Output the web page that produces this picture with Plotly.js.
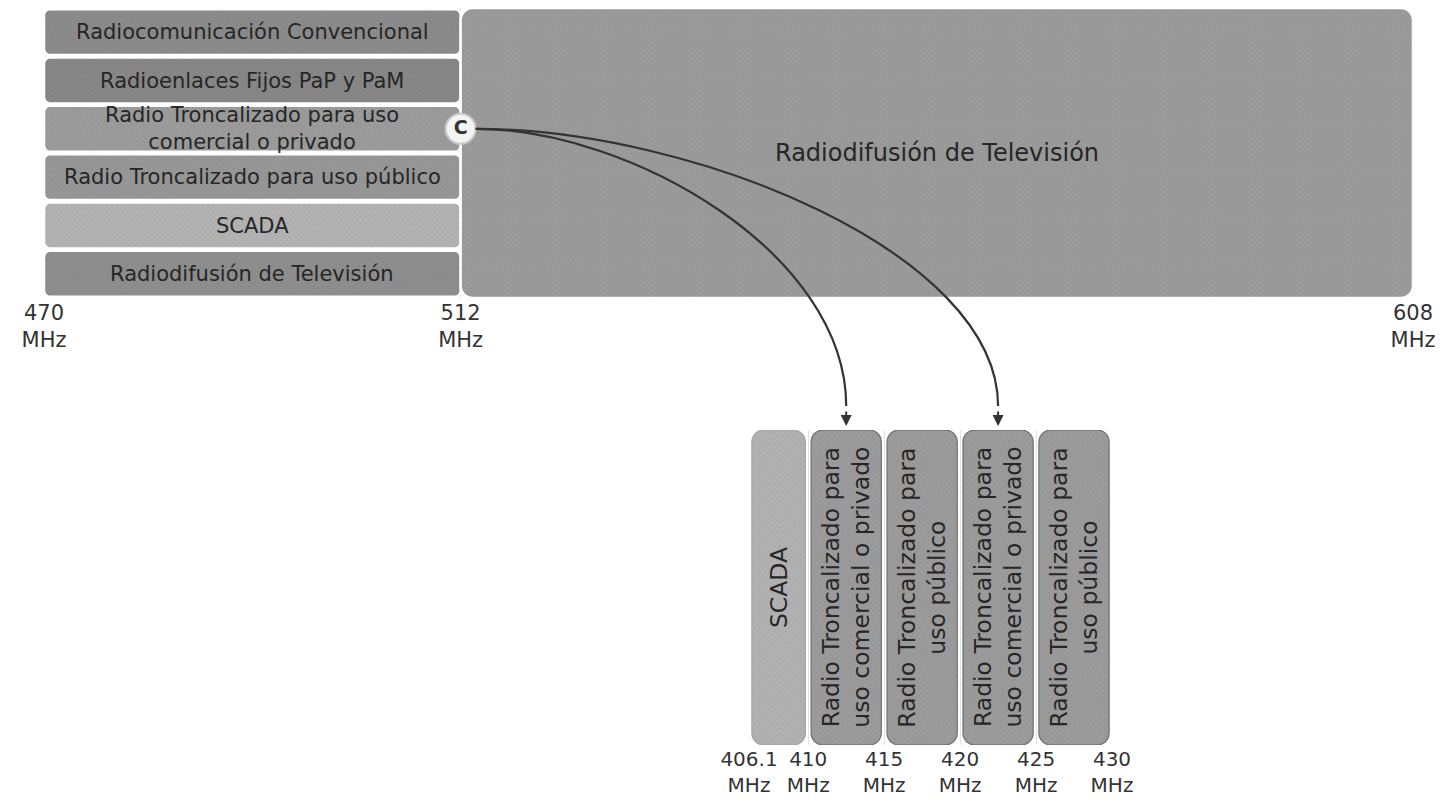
<!DOCTYPE html>
<html>
<head>
<meta charset="utf-8">
<script src="https://cdn.plot.ly/plotly-3.0.1.min.js"></script>
<style>html,body{margin:0;padding:0;background:#fff;}#chart{width:1445px;height:809px;}</style>
</head>
<body>
<div id="chart"></div>
<script>
// ---- data ----
const topBandNames = [
  "Radiocomunicación Convencional",
  "Radioenlaces Fijos PaP y PaM",
  "Radio Troncalizado para uso<br>comercial o privado",
  "Radio Troncalizado para uso público",
  "SCADA",
  "Radiodifusión de Televisión"
];
const topLowMHz = 470;
const topSplitMHz = 512;
const topHighMHz = 608;
const wideBandName = "Radiodifusión de Televisión";
const topTickValues = [470, 512, 608];

const subBandNames = [
  "SCADA",
  "Radio Troncalizado para<br>uso comercial o privado",
  "Radio Troncalizado para<br>uso público",
  "Radio Troncalizado para<br>uso comercial o privado",
  "Radio Troncalizado para<br>uso público"
];
const subBandEdges = [406.1, 410, 415, 420, 425, 430];
const sourceRowIndex = 2;          // "Radio Troncalizado para uso comercial o privado"
const linkedSubBands = [1, 3];     // segments reached by the arrows
const sourceLabel = "C";

// ---- styles ----
const topColors = ["#8b8b8b", "#878787", "#9b9b9b", "#979797", "#b3b3b3", "#8e8e8e"];
const wideColor = "#9a9a9a";
const subColors = ["#b2b2b2", "#9b9b9b", "#9b9b9b", "#9b9b9b", "#9b9b9b"];
const subLineColors = ["#a6a6a6", "#747474", "#747474", "#747474", "#747474"];
const textColor = "#262626";
const FONT = "DejaVu Sans";
const W = 1445, H = 809;
const texture = {shape: "x", size: 4, solidity: 0.12, fgcolor: "#6e6e6e", fgopacity: 0.25, fillmode: "overlay"};

// ---- derived ----
const rowCenters = topBandNames.map((_, i) => i + 0.5);
const subCenters = subBandNames.map((_, i) => (subBandEdges[i] + subBandEdges[i + 1]) / 2);
const subWidths = subBandNames.map((_, i) => (subBandEdges[i + 1] - subBandEdges[i]) - 0.38);
const fmtMHz = v => v + "<br>MHz";

const traces = [
  {
    type: "bar", orientation: "h", xaxis: "x", yaxis: "y",
    y: rowCenters,
    base: topBandNames.map(() => topLowMHz),
    x: topBandNames.map(() => topSplitMHz - topLowMHz),
    width: topBandNames.map(() => 0.95),
    marker: {color: topColors, line: {color: "#ffffff", width: 2.5}, cornerradius: 6, pattern: texture},
    hoverinfo: "skip", showlegend: false
  },
  {
    type: "bar", orientation: "h", xaxis: "x", yaxis: "y",
    y: [topBandNames.length / 2],
    base: [topSplitMHz],
    x: [topHighMHz - topSplitMHz],
    width: [topBandNames.length],
    marker: {color: wideColor, line: {color: "#ffffff", width: 2.5}, cornerradius: 12, pattern: texture},
    hoverinfo: "skip", showlegend: false
  },
  {
    type: "bar", xaxis: "x2", yaxis: "y2",
    x: subCenters,
    y: subBandNames.map(() => 1),
    base: subBandNames.map(() => 0),
    width: subWidths,
    marker: {color: subColors, line: {color: subLineColors, width: 1.3}, cornerradius: 12, pattern: texture},
    hoverinfo: "skip", showlegend: false
  },
  {
    type: "scatter", mode: "markers+text", xaxis: "x", yaxis: "y",
    x: [topSplitMHz], y: [rowCenters[sourceRowIndex]],
    text: ["<b>" + sourceLabel + "</b>"], textposition: "middle center",
    textfont: {family: FONT, size: 19, color: "#333"},
    marker: {size: 30, color: "#f4f4f4", line: {color: "#c8c8c8", width: 2}},
    hoverinfo: "skip", showlegend: false, cliponaxis: false
  }
];

const annotations = [];
topBandNames.forEach((name, i) => {
  annotations.push({
    xref: "x", yref: "y", x: (topLowMHz + topSplitMHz) / 2, y: rowCenters[i],
    text: name, showarrow: false,
    font: {family: FONT, size: 21, color: textColor}
  });
});
annotations.push({
  xref: "x", yref: "y", x: (topSplitMHz + topHighMHz) / 2, y: topBandNames.length / 2,
  text: wideBandName, showarrow: false,
  font: {family: FONT, size: 24, color: textColor}
});
subBandNames.forEach((name, i) => {
  annotations.push({
    xref: "x2", yref: "y2", x: subCenters[i], y: 0.5,
    text: name, showarrow: false, textangle: -90,
    font: {family: FONT, size: 23.5, color: textColor}
  });
});
linkedSubBands.forEach(j => {
  annotations.push({
    xref: "x2", yref: "y2", x: subCenters[j], y: 1,
    text: "", showarrow: true, ax: 0, ay: -20, standoff: 4,
    arrowhead: 2, arrowsize: 1.1, arrowwidth: 2, arrowcolor: "#333"
  });
});

const layout = {
  width: W, height: H,
  margin: {l: 0, r: 0, t: 0, b: 0},
  paper_bgcolor: "#ffffff", plot_bgcolor: "rgba(0,0,0,0)",
  font: {family: FONT, color: textColor},
  barmode: "overlay",
  showlegend: false,
  xaxis: {
    domain: [44 / W, 1413 / W], range: [topLowMHz, topHighMHz], anchor: "y",
    tickmode: "array", tickvals: topTickValues, ticktext: topTickValues.map(fmtMHz),
    tickfont: {family: FONT, size: 21, color: "#333"},
    showgrid: true, gridcolor: "#e6e6e6", gridwidth: 1, zeroline: false, showline: false, ticks: ""
  },
  yaxis: {
    domain: [1 - 298 / H, 1 - 8 / H], range: [topBandNames.length, 0], anchor: "x",
    visible: false
  },
  xaxis2: {
    domain: [749 / W, 1112 / W], range: [subBandEdges[0], subBandEdges[subBandEdges.length - 1]], anchor: "y2",
    tickmode: "array", tickvals: subBandEdges, ticktext: subBandEdges.map(fmtMHz),
    tickfont: {family: FONT, size: 20, color: "#333"},
    showgrid: true, gridcolor: "#e2e2e2", gridwidth: 1, zeroline: false, showline: false, ticks: ""
  },
  yaxis2: {
    domain: [1 - 745 / H, 1 - 430 / H], range: [0, 1], anchor: "x2",
    visible: false
  },
  annotations: annotations
};

Plotly.newPlot("chart", traces, layout, {displayModeBar: false, staticPlot: true}).then(gd => {
  const fl = gd._fullLayout;
  const s = fl._size;
  const px = (ax, v) => ax._offset + ax.l2p(v);
  const toPaper = (x, y) => [(x - s.l) / s.w, 1 - (y - s.t) / s.h];
  const sx = px(fl.xaxis, topSplitMHz) + 15;
  const sy = px(fl.yaxis, rowCenters[sourceRowIndex]);
  const shapes = linkedSubBands.map(j => {
    const ex = px(fl.xaxis2, subCenters[j]);
    const ey = px(fl.yaxis2, 1) - 4 - 20;
    const c1 = toPaper(sx + 0.42 * (ex - sx), sy);
    const c2 = toPaper(ex, sy + 0.45 * (ey - sy));
    const p0 = toPaper(sx, sy);
    const p1 = toPaper(ex, ey);
    return {
      type: "path", xref: "paper", yref: "paper", layer: "above",
      path: `M ${p0[0]},${p0[1]} C ${c1[0]},${c1[1]} ${c2[0]},${c2[1]} ${p1[0]},${p1[1]}`,
      line: {color: "#333333", width: 2.2}
    };
  });
  return Plotly.relayout(gd, {shapes: shapes});
});
</script>
</body>
</html>
